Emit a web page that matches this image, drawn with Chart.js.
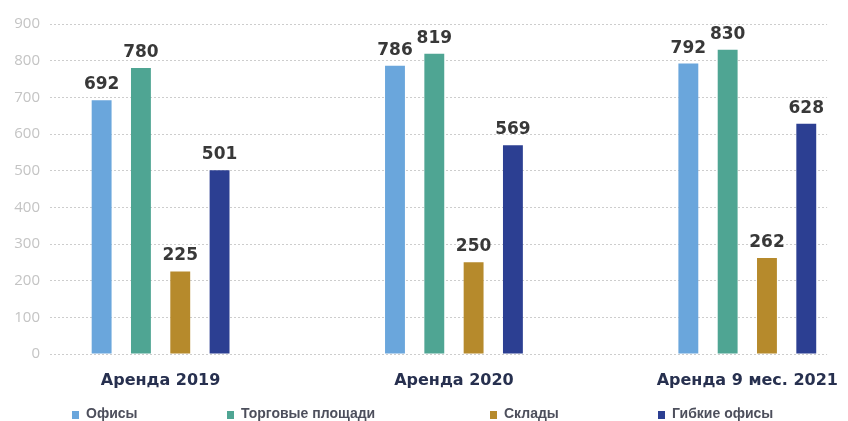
<!DOCTYPE html>
<html>
<head>
<meta charset="utf-8">
<script src="https://cdn.jsdelivr.net/npm/chart.js@4/dist/chart.umd.min.js"></script>
<style>
  html, body { margin: 0; padding: 0; background: #fff; }
  #wrap { position: relative; width: 848px; height: 421px; }
  #c { position: absolute; left: 0; top: 0; }
  .lg { position: absolute; top: 405px; font: 600 14px "Liberation Sans", Arial, sans-serif; color: #4d4f5c; white-space: nowrap; line-height: 16px; }
  .lg i { display: inline-block; width: 7px; height: 8px; margin-right: 7px; vertical-align: -1px; }
</style>
</head>
<body>
<div id="wrap">
  <canvas id="c" width="848" height="421"></canvas>
  <div id="legend"></div>
</div>
<script>
const categories = ["Аренда 2019", "Аренда 2020", "Аренда 9 мес. 2021"];
const seriesNames = ["Офисы", "Торговые площади", "Склады", "Гибкие офисы"];
const offices = [692, 786, 792];
const retail = [780, 819, 830];
const warehouses = [225, 250, 262];
const flexOffices = [501, 569, 628];
const yTicks = [0, 100, 200, 300, 400, 500, 600, 700, 800, 900];

const colors = ["#6aa6dc", "#4fa593", "#b68a2c", "#2c3f92"];
const seriesValues = [offices, retail, warehouses, flexOffices];
const legendX = [72, 227, 490, 658];

const datasets = seriesValues.map((vals, i) => ({
  label: seriesNames[i],
  data: vals.map((v, j) => ({ x: j, y: v })),
  backgroundColor: colors[i],
  borderWidth: 0,
  categoryPercentage: 0.536,
  barPercentage: 0.506
}));

const valueLabels = {
  id: 'valueLabels',
  afterDatasetsDraw(chart) {
    const ctx = chart.ctx;
    ctx.save();
    ctx.font = 'bold 17px "DejaVu Sans", sans-serif';
    ctx.fillStyle = '#383838';
    ctx.textAlign = 'center';
    ctx.textBaseline = 'bottom';
    chart.data.datasets.forEach((ds, i) => {
      chart.getDatasetMeta(i).data.forEach((bar, j) => {
        ctx.fillText(String(seriesValues[i][j]), bar.x, bar.y - 7);
      });
    });
    ctx.restore();
  }
};

new Chart(document.getElementById('c'), {
  type: 'bar',
  data: { datasets },
  options: {
    responsive: false,
    animation: false,
    layout: { padding: { top: 24, right: 10, bottom: 0, left: 0 } },
    plugins: { legend: { display: false }, tooltip: { enabled: false } },
    scales: {
      x: {
        type: 'linear',
        offset: false,
        min: -0.377,
        max: 2.272,
        grid: { display: false, offset: false },
        border: { display: false },
        afterBuildTicks(scale) { scale.ticks = categories.map((c, i) => ({ value: i })); },
        afterFit(scale) { scale.height = 67; },
        ticks: {
          padding: 9,
          maxRotation: 0,
          autoSkip: false,
          color: '#27304f',
          font: { family: '"DejaVu Sans", sans-serif', size: 16, weight: 'bold' },
          callback: (v) => categories[v] ?? ''
        }
      },
      y: {
        min: 0,
        max: 900,
        afterBuildTicks(scale) { scale.ticks = yTicks.map(v => ({ value: v })); },
        afterFit(scale) { scale.width = 50; },
        border: { display: false, dash: [2, 2] },
        grid: { color: '#cdcdcd', lineWidth: 1, drawTicks: false },
        ticks: {
          padding: 10,
          color: '#c4c4c4',
          font: { family: '"Open Sans", sans-serif', size: 15 }
        }
      }
    }
  },
  plugins: [valueLabels]
});

const lg = document.getElementById('legend');
seriesNames.forEach((n, i) => {
  const d = document.createElement('div');
  d.className = 'lg';
  d.style.left = legendX[i] + 'px';
  d.innerHTML = '<i style="background:' + colors[i] + '"></i>' + n;
  lg.appendChild(d);
});
</script>
</body>
</html>
